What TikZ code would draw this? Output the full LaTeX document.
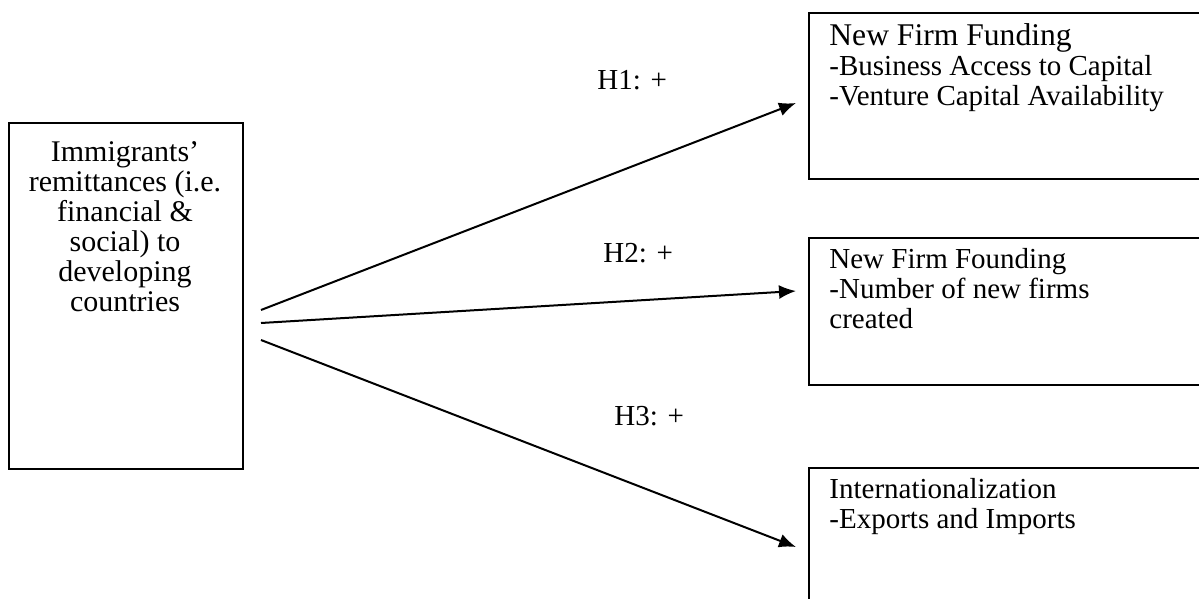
\documentclass[tikz,border=0pt]{standalone}
\usepackage{fontspec}
\setmainfont{Liberation Serif}
\usetikzlibrary{arrows.meta}
\begin{document}
\begin{tikzpicture}[x=0.5pt,y=-0.5pt,
  boxline/.style={draw=black,line width=1pt,inner sep=0pt,anchor=north west},
  boxtext/.style={inner sep=0pt,font=\fontsize{14.5pt}{15pt}\selectfont},
  srctext/.style={inner sep=0pt,font=\fontsize{15pt}{15pt}\selectfont},
  hyp/.style={inner sep=0pt,anchor=base west,font=\fontsize{14.5pt}{15pt}\selectfont},
  link/.style={line width=1pt,-{Latex[length=8.5pt,width=7pt]}}]
\useasboundingbox (0,0) rectangle (1199,599);
% boxes
\node[boxline,minimum width=117pt,minimum height=173pt] (src) at (8,122) {};
\node[boxline,minimum width=200pt,minimum height=83pt] (fund) at (808,12) {};
\node[boxline,minimum width=200pt,minimum height=73.5pt] (found) at (808,237) {};
\node[boxline,minimum width=200pt,minimum height=80pt] (intl) at (808,467) {};
% texts
\node[srctext,align=center,anchor=north] (srct) at (125,141) {Immigrants’\\remittances (i.e.\\financial \&\\social) to\\developing\\countries};
\node[boxtext,align=left,anchor=north west] (fundt) at (829,23) {{\fontsize{15.8pt}{15pt}\selectfont New Firm Funding}\\-Business Access to Capital\\-Venture Capital Availability};
\node[boxtext,align=left,anchor=north west] (foundt) at (829,248) {New Firm Founding\\-Number of new firms\\created};
\node[boxtext,align=left,anchor=north west] (intlt) at (829,478) {Internationalization\\-Exports and Imports};
% labels
\node[hyp] (h1) at (597,90) {H1: +};
\node[hyp] (h2) at (603,262) {H2: +};
\node[hyp] (h3) at (614,425) {H3: +};
% connector ends
\coordinate (s1) at (261,310);
\coordinate (s2) at (261,323);
\coordinate (s3) at (261,340);
\coordinate (t1) at (796,103);
\coordinate (t2) at (796,291);
\coordinate (t3) at (796,547);
\draw[link] (s1) -- (t1);
\draw[link] (s2) -- (t2);
\draw[link] (s3) -- (t3);
\end{tikzpicture}
\end{document}
